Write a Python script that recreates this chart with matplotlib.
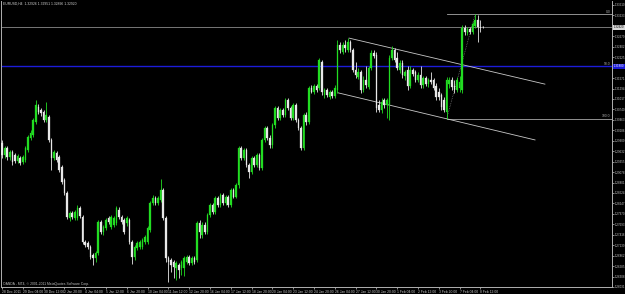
import matplotlib
matplotlib.use("Agg")
import matplotlib.pyplot as plt
import numpy as np

plt.rcParams['font.family'] = ['Liberation Sans', 'DejaVu Sans']

# ---------------- data (EURUSD H4) ----------------
opens = [1.2985,1.2953,1.2972,1.2948,1.2961,1.2953,1.2937,1.2945,1.2935,1.2940,
 1.2967,1.2998,1.3006,1.3041,1.3080,1.3072,1.3067,1.3046,1.3054,1.2993,
 1.2945,1.2959,1.2948,1.2921,1.2887,1.2853,1.2786,1.2800,1.2786,1.2786,
 1.2813,1.2789,1.2723,1.2720,1.2710,1.2688,1.2680,1.2694,1.2776,1.2749,
 1.2760,1.2786,1.2762,1.2768,1.2773,1.2808,1.2789,1.2781,1.2773,1.2781,
 1.2723,1.2683,1.2707,1.2710,1.2710,1.2723,1.2723,1.2755,1.2826,1.2839,
 1.2826,1.2834,1.2861,1.2786,1.2680,1.2675,1.2670,1.2654,1.2662,1.2654,
 1.2654,1.2670,1.2683,1.2667,1.2680,1.2675,1.2773,1.2741,1.2768,1.2749,
 1.2794,1.2821,1.2802,1.2839,1.2821,1.2847,1.2826,1.2842,1.2821,1.2861,
 1.2842,1.2874,1.2972,1.2945,1.2967,1.2927,1.2908,1.2945,1.2927,1.2953,
 1.2919,1.2993,1.3025,1.2998,1.2980,1.3033,1.3078,1.3051,1.3072,1.3059,
 1.3099,1.3078,1.3051,1.3086,1.3046,1.3025,1.2972,1.3059,1.3041,1.3131,
 1.3120,1.3136,1.3131,1.3200,1.3112,1.3126,1.3107,1.3120,1.3110,1.3126,
 1.3245,1.3226,1.3245,1.3232,1.3253,1.3232,1.3179,1.3160,1.3173,1.3126,
 1.3152,1.3133,1.3184,1.3224,1.3218,1.3086,1.3072,1.3099,1.3086,1.3086,
 1.3210,1.3232,1.3210,1.3179,1.3197,1.3163,1.3179,1.3136,1.3179,1.3173,
 1.3152,1.3165,1.3139,1.3157,1.3141,1.3152,1.3152,1.3136,1.3120,1.3112,
 1.3099,1.3067,1.3141,1.3152,1.3136,1.3126,1.3131,1.3126,1.3290,1.3277,
 1.3287,1.3279,1.3295,1.3311,1.3292,1.3292]
highs = [1.2993,1.2977,1.2977,1.2967,1.2967,1.2959,1.2956,1.2951,1.2953,1.2977,
 1.3006,1.3020,1.3051,1.3099,1.3088,1.3078,1.3072,1.3094,1.3059,1.2998,
 1.2967,1.2964,1.2953,1.2927,1.2892,1.2858,1.2805,1.2805,1.2808,1.2821,
 1.2818,1.2794,1.2728,1.2725,1.2715,1.2694,1.2699,1.2781,1.2781,1.2768,
 1.2786,1.2792,1.2794,1.2792,1.2818,1.2815,1.2794,1.2786,1.2792,1.2786,
 1.2728,1.2715,1.2725,1.2728,1.2733,1.2741,1.2765,1.2831,1.2847,1.2845,
 1.2845,1.2890,1.2866,1.2792,1.2686,1.2680,1.2675,1.2672,1.2667,1.2675,
 1.2686,1.2688,1.2688,1.2686,1.2686,1.2778,1.2781,1.2776,1.2776,1.2800,
 1.2826,1.2826,1.2845,1.2845,1.2853,1.2853,1.2847,1.2847,1.2866,1.2866,
 1.2879,1.2977,1.2977,1.2972,1.2972,1.2932,1.2951,1.2951,1.2959,1.2959,
 1.2998,1.3030,1.3030,1.3006,1.3038,1.3083,1.3083,1.3078,1.3078,1.3104,
 1.3104,1.3083,1.3091,1.3091,1.3051,1.3030,1.3065,1.3067,1.3136,1.3139,
 1.3141,1.3141,1.3210,1.3205,1.3131,1.3131,1.3126,1.3126,1.3139,1.3258,
 1.3253,1.3253,1.3258,1.3263,1.3258,1.3237,1.3200,1.3184,1.3179,1.3163,
 1.3189,1.3189,1.3232,1.3232,1.3226,1.3099,1.3104,1.3104,1.3104,1.3218,
 1.3242,1.3237,1.3226,1.3205,1.3205,1.3179,1.3189,1.3189,1.3184,1.3179,
 1.3173,1.3189,1.3163,1.3163,1.3157,1.3173,1.3157,1.3144,1.3131,1.3118,
 1.3107,1.3160,1.3160,1.3160,1.3152,1.3160,1.3163,1.3298,1.3298,1.3292,
 1.3292,1.3306,1.3327,1.3324,1.3311,1.3295]
lows = [1.2945,1.2945,1.2940,1.2940,1.2927,1.2932,1.2932,1.2927,1.2929,1.2935,
 1.2961,1.2993,1.3001,1.3035,1.3062,1.3057,1.3041,1.3041,1.2988,1.2913,
 1.2940,1.2935,1.2908,1.2876,1.2847,1.2784,1.2778,1.2784,1.2781,1.2781,
 1.2786,1.2717,1.2710,1.2704,1.2678,1.2662,1.2670,1.2688,1.2744,1.2741,
 1.2755,1.2770,1.2757,1.2762,1.2768,1.2784,1.2770,1.2744,1.2765,1.2717,
 1.2664,1.2675,1.2702,1.2704,1.2704,1.2717,1.2717,1.2749,1.2821,1.2821,
 1.2821,1.2829,1.2781,1.2670,1.2617,1.2643,1.2627,1.2622,1.2627,1.2635,
 1.2633,1.2664,1.2662,1.2662,1.2664,1.2670,1.2733,1.2733,1.2744,1.2744,
 1.2789,1.2797,1.2797,1.2815,1.2815,1.2821,1.2821,1.2815,1.2815,1.2839,
 1.2839,1.2866,1.2940,1.2940,1.2921,1.2892,1.2903,1.2921,1.2921,1.2913,
 1.2913,1.2988,1.2993,1.2972,1.2972,1.3025,1.3046,1.3046,1.3054,1.3054,
 1.3072,1.3046,1.3046,1.3041,1.3020,1.2967,1.2967,1.3033,1.3035,1.3118,
 1.3115,1.3120,1.3126,1.3112,1.3104,1.3107,1.3102,1.3104,1.3104,1.3118,
 1.3224,1.3221,1.3226,1.3226,1.3226,1.3173,1.3157,1.3155,1.3118,1.3120,
 1.3131,1.3128,1.3179,1.3210,1.3067,1.3067,1.3065,1.3078,1.3051,1.3046,
 1.3205,1.3200,1.3179,1.3171,1.3157,1.3152,1.3126,1.3131,1.3163,1.3147,
 1.3147,1.3131,1.3131,1.3136,1.3133,1.3141,1.3126,1.3099,1.3099,1.3072,
 1.3067,1.3049,1.3131,1.3126,1.3118,1.3120,1.3120,1.3118,1.3271,1.3271,
 1.3274,1.3274,1.3290,1.3253,1.3279,1.3290]
closes = [1.2953,1.2972,1.2948,1.2961,1.2935,1.2937,1.2951,1.2932,1.2948,1.2972,
 1.3001,1.3012,1.3046,1.3086,1.3067,1.3065,1.3046,1.3059,1.2993,1.2945,
 1.2961,1.2940,1.2913,1.2882,1.2853,1.2789,1.2800,1.2789,1.2802,1.2813,
 1.2792,1.2723,1.2715,1.2710,1.2683,1.2680,1.2694,1.2776,1.2749,1.2762,
 1.2781,1.2776,1.2789,1.2786,1.2813,1.2789,1.2776,1.2749,1.2786,1.2723,
 1.2683,1.2710,1.2720,1.2723,1.2728,1.2736,1.2760,1.2826,1.2839,1.2826,
 1.2839,1.2861,1.2786,1.2680,1.2670,1.2662,1.2656,1.2667,1.2649,1.2670,
 1.2680,1.2683,1.2667,1.2680,1.2670,1.2773,1.2749,1.2768,1.2749,1.2794,
 1.2821,1.2802,1.2839,1.2821,1.2847,1.2826,1.2842,1.2821,1.2861,1.2842,
 1.2874,1.2972,1.2945,1.2967,1.2927,1.2908,1.2945,1.2927,1.2953,1.2919,
 1.2993,1.3025,1.2998,1.2980,1.3033,1.3078,1.3051,1.3072,1.3059,1.3099,
 1.3078,1.3051,1.3086,1.3046,1.3025,1.2972,1.3059,1.3041,1.3131,1.3120,
 1.3136,1.3126,1.3205,1.3120,1.3126,1.3112,1.3120,1.3110,1.3131,1.3245,
 1.3232,1.3245,1.3237,1.3253,1.3232,1.3179,1.3165,1.3173,1.3126,1.3152,
 1.3139,1.3184,1.3224,1.3216,1.3078,1.3072,1.3094,1.3086,1.3099,1.3210,
 1.3232,1.3205,1.3184,1.3197,1.3165,1.3173,1.3136,1.3179,1.3168,1.3152,
 1.3165,1.3139,1.3157,1.3141,1.3152,1.3147,1.3131,1.3107,1.3107,1.3080,
 1.3072,1.3152,1.3152,1.3133,1.3126,1.3152,1.3147,1.3290,1.3279,1.3287,
 1.3279,1.3300,1.3311,1.3292,1.3290,1.3292]

date_labels = ["28 Dec 2011", "29 Dec 04:00", "30 Dec 12:00", "2 Jan 20:00", "4 Jan 04:00",
               "5 Jan 12:00", "6 Jan 20:00", "10 Jan 04:00", "11 Jan 12:00", "12 Jan 20:00",
               "16 Jan 04:00", "17 Jan 12:00", "18 Jan 20:00", "20 Jan 04:00", "23 Jan 12:00",
               "24 Jan 20:00", "26 Jan 04:00", "27 Jan 12:00", "30 Jan 20:00", "1 Feb 04:00",
               "2 Feb 12:00", "3 Feb 20:00", "7 Feb 04:00", "8 Feb 12:00"]
date_label_bars = [0, 8, 16, 24, 32, 40, 48, 56, 64, 72, 80, 88, 96, 104, 112, 120,
                   128, 136, 144, 152, 160, 168, 176, 184]

price_ticks = [1.33510, 1.33233, 1.32956, 1.32679, 1.32402, 1.32125, 1.31848, 1.31571,
               1.31294, 1.31017, 1.30740, 1.30463, 1.30186, 1.29909, 1.29632, 1.29355,
               1.29078, 1.28801, 1.28524, 1.28247, 1.27970, 1.27693, 1.27416, 1.27139,
               1.26862, 1.26585, 1.26308, 1.26031]

bid_price = 1.32920
blue_line_price = 1.31880
fibo_levels = [0.0, 50.0, 100.0]
fibo_prices = [1.3327, 1.3188, 1.3049]
fibo_anchor_bars = [171, 182]
channel_upper = ([133.5, 208.8], [1.3263, 1.3141])
channel_lower = ([129.2, 205.0], [1.3118, 1.2993])
header = "EURUSD,H4  1.32926 1.32951 1.32896 1.32920"
copyright_text = "OANDA - MT4, \u00a9 2001-2011 MetaQuotes Software Corp."

# ---------------- drawing ----------------
W, H = 625, 294
FS = 2.4
FSY = 2.05
fig = plt.figure(figsize=(W / 100, H / 100), dpi=100, facecolor="black")
ax = fig.add_axes([1 / W, 1 - 287 / H, 611 / W, 286 / H], facecolor="black")

n = len(closes)
x = np.arange(n)
o = np.array(opens); h = np.array(highs); l = np.array(lows); c = np.array(closes)
bull = c > o
GREEN = "#22dd22"
WHITE = "#e8e8e8"
cols = np.where(bull, GREEN, WHITE)

ax.vlines(x, l, h, colors=cols, linewidth=0.6, zorder=3)
bottoms = np.minimum(o, c)
heights = np.maximum(np.abs(c - o), 0.00004)
ax.bar(x, heights, bottom=bottoms, width=0.62, color=cols, edgecolor=cols,
       linewidth=0.2, zorder=4)

xmin, xmax = -0.385, 234.6
ax.set_xlim(xmin, xmax)
ax.set_ylim(1.26035, 1.33614)

# bid line and blue horizontal
ax.axhline(bid_price, color="#8a8a8a", linewidth=0.6, zorder=2)
ax.axhline(blue_line_price, color="#1c1cd8", linewidth=1.0, zorder=2)

# fibonacci levels
for lev, pr in zip(fibo_levels, fibo_prices):
    if lev != 50.0:
        ax.plot([fibo_anchor_bars[0], xmax], [pr, pr], color="#a8a8a8", linewidth=0.6, zorder=2)
    ax.text(xmax - 0.6, pr + 0.00012, "%.1f" % lev, color="#b0b0b0", fontsize=FS,
            ha="right", va="bottom", zorder=5)
ax.plot(fibo_anchor_bars, [fibo_prices[2], fibo_prices[0]], color="#909090",
        linewidth=0.5, linestyle=(0, (1, 1.5)), zorder=2)

# channel
ax.plot(channel_upper[0], channel_upper[1], color="#c8c8c8", linewidth=0.6, zorder=2)
ax.plot(channel_lower[0], channel_lower[1], color="#c8c8c8", linewidth=0.6, zorder=2)

# axes styling
ax.spines["top"].set_visible(False)
for s in ["left", "right", "bottom"]:
    ax.spines[s].set_color("#b0b0b0")
    ax.spines[s].set_linewidth(0.7)

# tick labels hidden behind the highlighted price boxes
hidden = [v for v in price_ticks
          if abs(v - bid_price) < 0.0013 or abs(v - blue_line_price) < 0.0013]
ax.yaxis.tick_right()
ax.set_yticks(price_ticks)
ax.set_yticklabels(["" if v in hidden else "%.5f" % v for v in price_ticks])
ax.tick_params(axis="y", colors="#c8c8c8", labelsize=FSY, length=1.5, width=0.5, pad=0.8)

ax.set_xticks(date_label_bars)
ax.set_xticklabels(date_labels, ha="left")
ax.tick_params(axis="x", colors="#c8c8c8", labelsize=FS, length=1.5, width=0.5, pad=1)

# price labels on right
ax.text(1.0025, bid_price, "%.5f" % bid_price, transform=ax.get_yaxis_transform(),
        fontsize=FSY, color="black", va="center", ha="left",
        bbox=dict(boxstyle="square,pad=0.2", facecolor="#d8d8d8", edgecolor="none"), zorder=6)
ax.text(1.0025, blue_line_price, "%.5f" % blue_line_price, transform=ax.get_yaxis_transform(),
        fontsize=FSY, color="white", va="center", ha="left",
        bbox=dict(boxstyle="square,pad=0.2", facecolor="#1c1cd8", edgecolor="none"), zorder=6)

fig.text(3 / W, 1 - 4 / H, header, color="#d0d0d0", fontsize=FS, va="center", ha="left")
fig.text(3 / W, 1 - 284 / H, copyright_text, color="#c0c0c0", fontsize=FS, va="center", ha="left")

fig.savefig("out.png", dpi=100, facecolor="black")
